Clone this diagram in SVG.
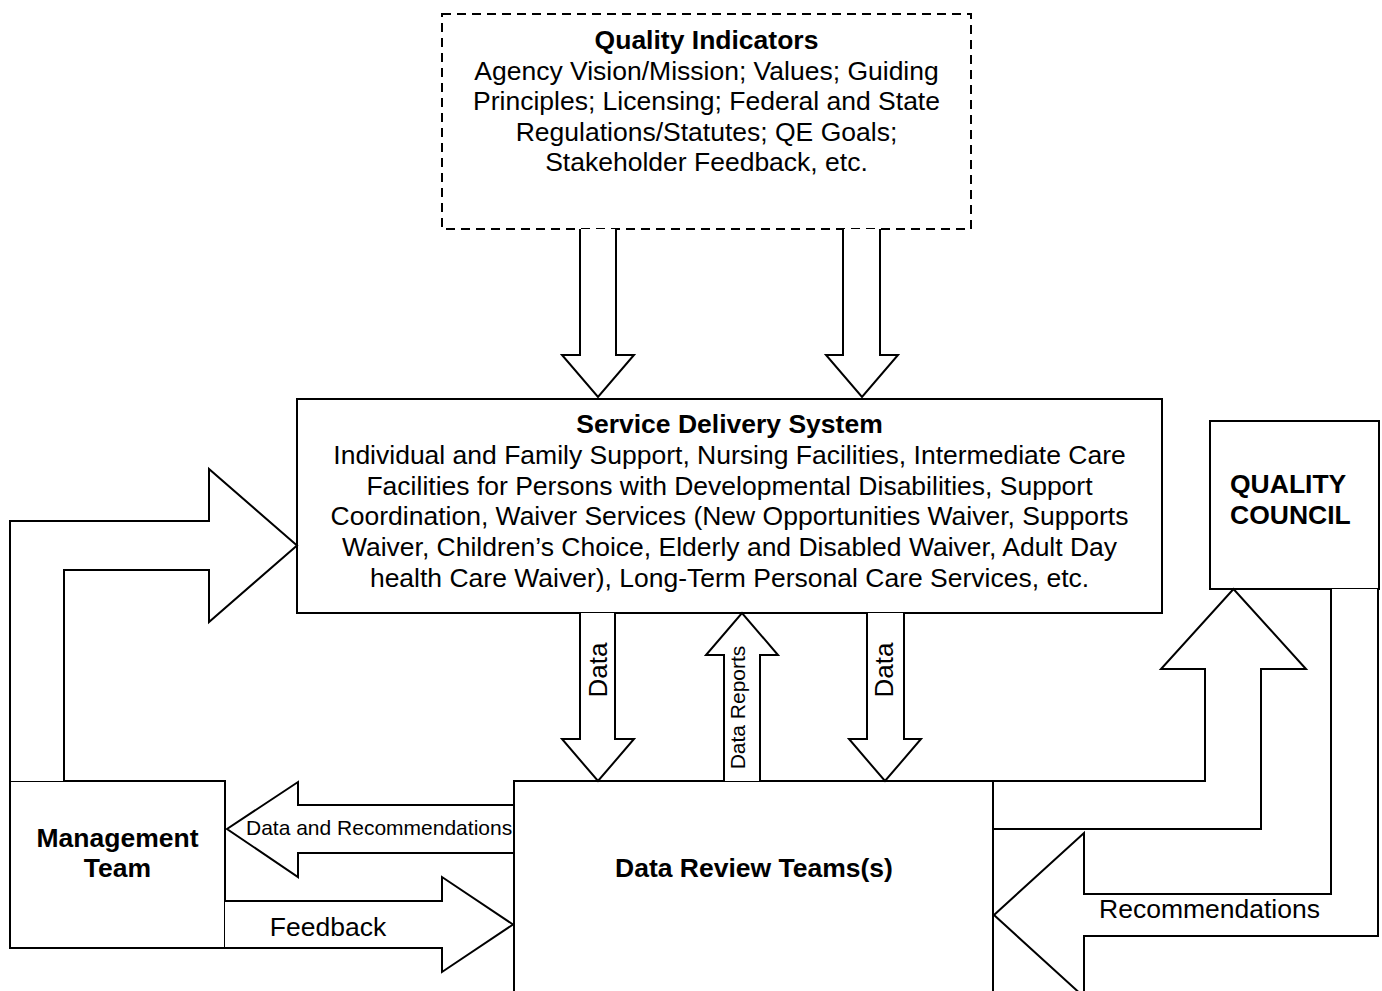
<svg xmlns="http://www.w3.org/2000/svg" width="1382" height="991" viewBox="0 0 1382 991">
  <style>
    .box { fill: #fff; stroke: #000; stroke-width: 2; }
    .dash { fill: #fff; stroke: #000; stroke-width: 2; stroke-dasharray: 9 6; }
    .arrow { fill: #fff; stroke: #000; stroke-width: 2; stroke-linejoin: miter; }
    text { font-family: "Liberation Sans", Arial, sans-serif; fill: #000; }
    .t { font-size: 26.5px; text-anchor: middle; }
    .b { font-size: 26.5px; font-weight: bold; text-anchor: middle; }
    .l { text-anchor: start; }
    .s { font-size: 21px; }
    .v { font-size: 26px; text-anchor: middle; }
  </style>
  <rect width="1382" height="991" fill="#fff"/>

  <!-- Inputs at the top of the loop -->
  <g id="quality-indicators">
    <rect class="dash" x="442" y="14" width="529" height="215"/>
    <text class="b" x="706.5" y="49">Quality Indicators</text>
    <text class="t" x="706.5" y="79.5">Agency Vision/Mission; Values; Guiding</text>
    <text class="t" x="706.5" y="110">Principles; Licensing; Federal and State</text>
    <text class="t" x="706.5" y="140.5">Regulations/Statutes; QE Goals;</text>
    <text class="t" x="706.5" y="171">Stakeholder Feedback, etc.</text>
  </g>

  <g id="service-delivery-system">
    <rect class="box" x="297" y="399" width="865" height="214"/>
    <text class="b" x="729.5" y="433">Service Delivery System</text>
    <text class="t" x="729.5" y="464">Individual and Family Support, Nursing Facilities, Intermediate Care</text>
    <text class="t" x="729.5" y="495">Facilities for Persons with Developmental Disabilities, Support</text>
    <text class="t" x="729.5" y="525">Coordination, Waiver Services (New Opportunities Waiver, Supports</text>
    <text class="t" x="729.5" y="556">Waiver, Children’s Choice, Elderly and Disabled Waiver, Adult Day</text>
    <text class="t" x="729.5" y="587">health Care Waiver), Long-Term Personal Care Services, etc.</text>
  </g>

  <g id="quality-council">
    <rect class="box" x="1210" y="421" width="169" height="168"/>
    <text class="b l" x="1230" y="493">QUALITY</text>
    <text class="b l" x="1230" y="524">COUNCIL</text>
  </g>

  <g id="management-team">
    <rect class="box" x="10" y="781" width="215" height="167"/>
    <text class="b" x="117.5" y="847">Management</text>
    <text class="b" x="117.5" y="877">Team</text>
  </g>

  <g id="data-review-teams">
    <rect class="box" x="514" y="781" width="479" height="220"/>
    <text class="b" x="754" y="877">Data Review Teams(s)</text>
  </g>

  <!-- Block arrows linking the boxes -->
  <g id="connectors">
    <!-- Quality Indicators into the service system -->
    <path class="arrow" d="M580,229 V355 H562 L598,397 L634,355 H616 V229"/>
    <path class="arrow" d="M843,229 V355 H826 L862,397 L898,355 H880 V229"/>

    <!-- Management Team back up to the service system -->
    <path class="arrow" d="M10,781 V521 H209 V469 L297,545.5 L209,622 V570 H64 V781"/>

    <!-- Data down, reports up -->
    <path class="arrow" d="M580,613 V739 H562 L598,781 L634,739 H615 V613"/>
    <text class="v" transform="translate(607,670) rotate(-90)">Data</text>

    <path class="arrow" d="M724,781 V655 H706 L742,613 L778,655 H760 V781"/>
    <text class="s" transform="translate(745,707.5) rotate(-90)" text-anchor="middle">Data Reports</text>

    <path class="arrow" d="M867,613 V739 H849 L885,781 L921,739 H904 V613"/>
    <text class="v" transform="translate(893,670) rotate(-90)">Data</text>

    <!-- Between Data Review Teams and Management Team -->
    <path class="arrow" d="M513,805 H298 V782 L227,829 L298,877 V853 H513"/>
    <text class="s" x="246" y="835">Data and Recommendations</text>

    <path class="arrow" d="M225,901 H442 V877 L513,924.5 L442,972 V948 H225"/>
    <text class="t" x="328" y="936">Feedback</text>

    <!-- Data Review Teams up to the Quality Council -->
    <path class="arrow" d="M994,781 H1205 V669 H1161 L1233.5,589 L1306,669 H1261 V829 H994"/>

    <!-- Quality Council recommendations back down -->
    <path class="arrow" d="M1331,589 V894 H1084 V833 L994,915 L1084,997 V936 H1378 V589"/>
    <text class="t" x="1209.5" y="918">Recommendations</text>
  </g>
</svg>
